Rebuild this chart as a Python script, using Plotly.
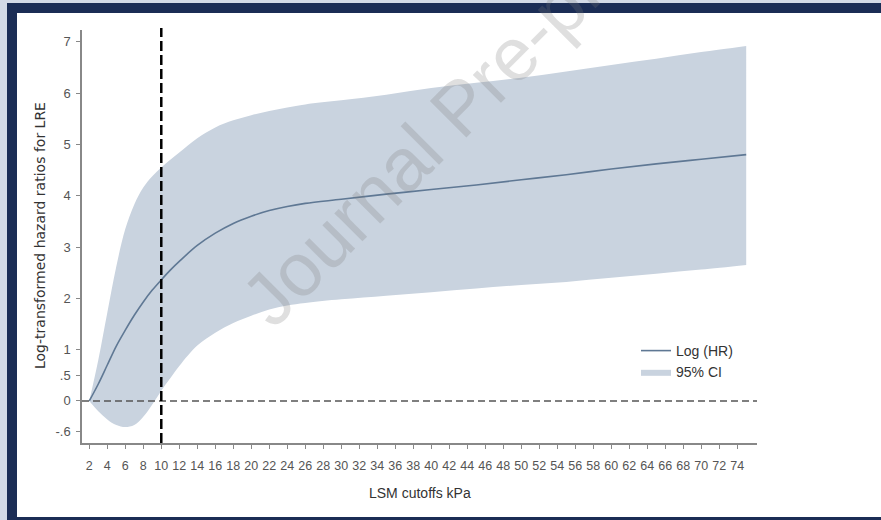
import plotly.graph_objects as go

# ---- data ----
lsm = [2, 3, 4, 5, 6, 7, 8, 9, 10, 11, 12, 14, 16, 18, 20, 22, 24, 26, 30, 35,
       40, 45, 50, 55, 60, 65, 70, 75]
log_hr = [0.00, 0.33, 0.70, 1.07, 1.38, 1.67, 1.93, 2.16, 2.36, 2.55, 2.72, 3.03,
          3.27, 3.46, 3.60, 3.71, 3.79, 3.85, 3.93, 4.03, 4.12, 4.21, 4.31, 4.41,
          4.52, 4.62, 4.71, 4.80]
ci_upper = [0.00, 0.80, 1.72, 2.62, 3.35, 3.83, 4.16, 4.38, 4.55, 4.70, 4.84, 5.12,
            5.33, 5.47, 5.57, 5.65, 5.72, 5.78, 5.86, 5.97, 6.10, 6.20, 6.30, 6.42,
            6.55, 6.67, 6.80, 6.92]
ci_lower = [0.00, -0.20, -0.36, -0.47, -0.51, -0.47, -0.31, -0.07, 0.20, 0.44, 0.68,
            1.08, 1.33, 1.52, 1.66, 1.78, 1.86, 1.91, 1.98, 2.05, 2.12, 2.19, 2.26,
            2.32, 2.40, 2.48, 2.56, 2.65]
x_ticks = list(range(2, 75, 2))
y_tickvals = [-0.6, 0, 0.5, 1, 2, 3, 4, 5, 6, 7]
y_ticktext = ["-.6", "0", ".5", "1", "2", "3", "4", "5", "6", "7"]
cutoff = 10

W, H = 881, 520
L, R, T, B = 82, 124, 30, 77
pw, ph = W - L - R, H - T - B


def px(x):
    return (x - L) / pw


def py(y):
    return (H - B - y) / ph


BAND = "#c9d3df"
LINE = "#5f7894"
FONT = "Liberation Sans, Arial, sans-serif"

fig = go.Figure()
fig.add_trace(go.Scatter(x=lsm, y=ci_lower, mode="lines", line=dict(width=0, shape="spline"),
                         showlegend=False, hoverinfo="skip"))
fig.add_trace(go.Scatter(x=lsm, y=ci_upper, mode="lines", line=dict(width=0, shape="spline"),
                         fill="tonexty", fillcolor=BAND, name="95% CI", legendrank=2))
fig.add_trace(go.Scatter(x=lsm, y=log_hr, mode="lines", line=dict(color=LINE, width=1.6, shape="spline"),
                         name="Log (HR)", legendrank=1))

shapes = [
    # frame
    dict(type="rect", xref="paper", yref="paper", x0=px(7), x1=px(W + 20), y0=py(3), y1=py(H + 20),
         fillcolor="#1b2d55", line=dict(width=0), layer="below"),
    dict(type="rect", xref="paper", yref="paper", x0=px(17), x1=px(W + 20), y0=py(13), y1=py(517),
         fillcolor="white", line=dict(width=0), layer="below"),
    # reference lines
    dict(type="line", xref="paper", yref="y", x0=0, x1=1, y0=0, y1=0,
         line=dict(color="#555555", width=1.5, dash="7px,4px")),
    dict(type="line", xref="x", yref="paper", x0=cutoff, x1=cutoff, y0=0, y1=1.005,
         line=dict(color="black", width=2.5, dash="10px,4px")),
]

annotations = [
    dict(text="Journal Pre-proof", xref="paper", yref="paper", x=px(460), y=py(107),
         xanchor="center", yanchor="middle",
         showarrow=False, textangle=-45, font=dict(family=FONT, size=75, color="rgba(120,120,120,0.24)")),
    dict(text="Log-transformed hazard ratios for LRE", xref="paper", yref="paper",
         x=px(40), y=py(236), xanchor="center", yanchor="middle", showarrow=False, textangle=-90,
         font=dict(family="DejaVu Sans, sans-serif", size=14, color="#333333")),
    dict(text="LSM cutoffs kPa", xref="paper", yref="paper", x=px(420), y=py(493),
         xanchor="center", yanchor="middle",
         showarrow=False, font=dict(family=FONT, size=14, color="#333333")),
]

fig.update_layout(
    width=W, height=H,
    margin=dict(l=L, r=R, t=T, b=B),
    paper_bgcolor="#d3dae6",
    plot_bgcolor="rgba(0,0,0,0)",
    font=dict(family=FONT, size=12, color="#444444"),
    shapes=shapes,
    annotations=annotations,
    showlegend=True,
    legend=dict(x=px(636), y=py(335), xanchor="left", yanchor="top", traceorder="normal",
                bgcolor="rgba(0,0,0,0)", itemwidth=30,
                font=dict(family=FONT, size=14, color="#333333")),
    xaxis=dict(range=[1.19, 76.2], tickvals=x_ticks, ticks="outside", ticklen=4,
               tickcolor="#888888", showline=True, linecolor="#888888", linewidth=1.5,
               showgrid=False, zeroline=False, ticklabelstandoff=6,
               tickfont=dict(family=FONT, size=12.5, color="#555555")),
    yaxis=dict(range=[-0.82, 7.23], tickvals=y_tickvals, ticktext=y_ticktext,
               ticks="outside", ticklen=4, tickcolor="#888888", showline=True,
               linecolor="#888888", linewidth=1.5, showgrid=False, zeroline=False,
               ticklabelstandoff=3, tickfont=dict(family=FONT, size=13, color="#555555")),
)

fig.write_html("out.html")
